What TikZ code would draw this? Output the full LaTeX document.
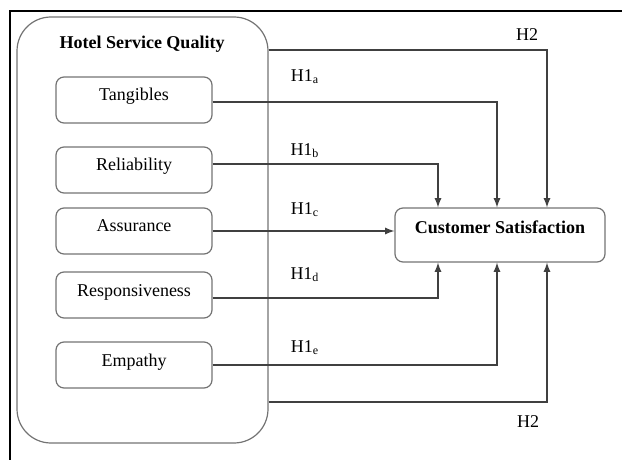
\documentclass[tikz,border=0pt]{standalone}
\usepackage{fontspec}
\setmainfont{Liberation Serif}
\usetikzlibrary{arrows}

\begin{document}
\begin{tikzpicture}[x=0.5pt, y=-0.5pt, >=latex,
  every node/.style={font=\fontsize{9}{11}\selectfont},
  dimbox/.style={draw=black!55, line width=0.6pt, rounded corners=4pt,
    minimum width=78pt, minimum height=23pt, text height=6pt, text depth=5pt},
  hyp/.style={->, draw=black!75, line width=0.6pt}]
  \useasboundingbox (0,0) rectangle (622,460);
  \draw[line width=0.7pt] (10,460) -- (10,11) -- (622,11);

  % construct and its dimensions
  \node (hsq) [draw=black!55, line width=0.6pt, rounded corners=17pt,
    minimum width=125.5pt, minimum height=213pt] at (142.5,230) {};
  \node (hsqt) at (142,44) {\textbf{Hotel Service Quality}};
  \node (tan) [dimbox] at (134,100) {Tangibles};
  \node (rel) [dimbox] at (134,170) {Reliability};
  \node (ass) [dimbox] at (134,231) {Assurance};
  \node (res) [dimbox] at (134,295) {Responsiveness};
  \node (emp) [dimbox] at (134,365) {Empathy};

  \node (cs) [dimbox, minimum width=105pt, minimum height=27pt,
    text height=6pt, text depth=7.5pt] at (500,235) {\textbf{Customer Satisfaction}};

  % hypotheses
  \node (h1a) at (305,77) {H1\textsubscript{a}};
  \node (h1b) at (305,151) {H1\textsubscript{b}};
  \node (h1c) at (305,210) {H1\textsubscript{c}};
  \node (h1d) at (305,275) {H1\textsubscript{d}};
  \node (h1e) at (305,348) {H1\textsubscript{e}};
  \node (h2t) at (527,35) {H2};
  \node (h2b) at (528,422) {H2};

  \draw[hyp] ([yshift=90pt]hsq.east) -| ([xshift=23.5pt]cs.north);
  \draw[hyp] ([yshift=-1pt]tan.east) -| ([xshift=-1.5pt]cs.north);
  \draw[hyp] ([yshift=3pt]rel.east) -| ([xshift=-31pt]cs.north);
  \draw[hyp] (ass.east) -- (ass.east -| cs.west);
  \draw[hyp] ([yshift=-1.5pt]res.east) -| ([xshift=-31pt]cs.south);
  \draw[hyp] (emp.east) -| ([xshift=-1.5pt]cs.south);
  \draw[hyp] ([yshift=-86pt]hsq.east) -| ([xshift=23.5pt]cs.south);
\end{tikzpicture}
\end{document}
